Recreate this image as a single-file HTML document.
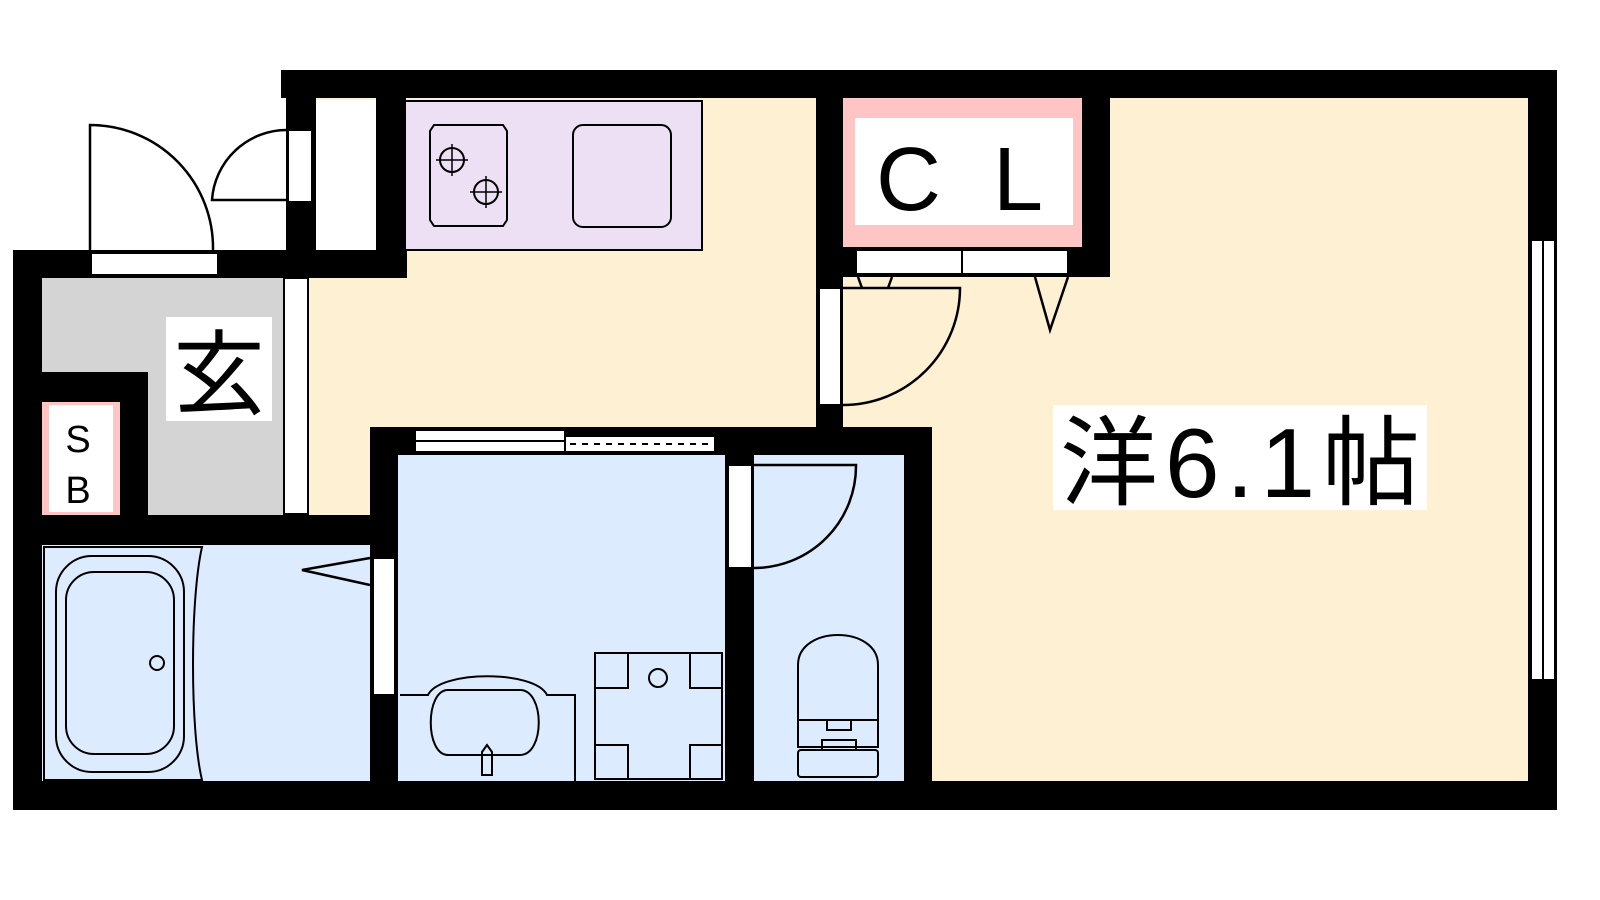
<!DOCTYPE html>
<html><head><meta charset="utf-8"><style>
html,body{margin:0;padding:0;background:#fff;width:1600px;height:900px;overflow:hidden}
svg{display:block}
text{font-family:"Liberation Sans","Noto Sans CJK JP",sans-serif}
</style></head><body>
<svg width="1600" height="900" viewBox="0 0 1600 900" xmlns="http://www.w3.org/2000/svg">
<!-- floors -->
<rect x="300" y="98" width="1230" height="685" fill="#fdf0d3"/>
<rect x="312" y="100" width="64" height="152" fill="#fff"/>
<rect x="42" y="278" width="242" height="238" fill="#d4d4d4"/>
<rect x="42" y="545" width="330" height="238" fill="#dcebfd"/>
<rect x="398" y="455" width="330" height="328" fill="#dcebfd"/>
<rect x="754" y="455" width="152" height="328" fill="#dcebfd"/>
<!-- kitchen -->
<rect x="401" y="101" width="301" height="149" fill="#ede0f5" stroke="#000" stroke-width="2"/>
<path d="M434 125 H503 L507 131 V220 L503 226 H434 L430 220 V131 Z" fill="none" stroke="#000" stroke-width="2"/>
<circle cx="452" cy="160" r="12" fill="none" stroke="#000" stroke-width="2"/>
<path d="M452 144v32M436 160h32" stroke="#000" stroke-width="1.5"/>
<circle cx="486" cy="192" r="12" fill="none" stroke="#000" stroke-width="2"/>
<path d="M486 176v32M470 192h32" stroke="#000" stroke-width="1.5"/>
<rect x="573" y="125" width="98" height="102" rx="10" fill="none" stroke="#000" stroke-width="2"/>
<!-- CL -->
<rect x="843" y="98" width="239" height="149" fill="#ffc4c4"/>
<rect x="855" y="118" width="218" height="107" fill="#fff"/>
<text x="876" y="210" font-size="90" letter-spacing="52">CL</text>
<!-- SB -->
<rect x="42" y="402" width="78" height="113" fill="#ffc4c4"/>
<rect x="49" y="405" width="64" height="107" fill="#fff"/>
<text x="78" y="452" font-size="38" text-anchor="middle">S</text>
<text x="78" y="503" font-size="38" text-anchor="middle">B</text>
<!-- walls -->
<g fill="#000">
<rect x="281" y="70" width="1276" height="28"/>
<rect x="1528" y="70" width="29" height="740"/>
<rect x="13" y="781" width="1544" height="29"/>
<rect x="13" y="250" width="29" height="560"/>
<rect x="13" y="250" width="394" height="28"/>
<rect x="286" y="70" width="30" height="208"/>
<rect x="376" y="98" width="30" height="180"/>
<rect x="42" y="372" width="106" height="30"/>
<rect x="120" y="372" width="28" height="143"/>
<rect x="13" y="515" width="385" height="30"/>
<rect x="370" y="427" width="28" height="354"/>
<rect x="370" y="427" width="562" height="28"/>
<rect x="725" y="455" width="29" height="326"/>
<rect x="904" y="427" width="28" height="354"/>
<rect x="816" y="98" width="27" height="329"/>
<rect x="816" y="247" width="294" height="30"/>
<rect x="1082" y="98" width="28" height="179"/>
</g>
<!-- openings -->
<g fill="#fff" stroke="#000" stroke-width="2">
<rect x="91" y="253" width="127" height="22"/>
<rect x="288" y="130" width="24" height="72"/>
<rect x="284" y="278" width="24" height="236"/>
<rect x="373" y="558" width="22" height="137"/>
<rect x="728" y="465" width="24" height="103"/>
<rect x="819" y="288" width="22" height="117"/>
<rect x="1531" y="240" width="24" height="440"/>
<rect x="856" y="250" width="212" height="24"/>
<rect x="415" y="430" width="150" height="22"/>
<rect x="565" y="436" width="150" height="16"/>
</g>
<line x1="962" y1="250" x2="962" y2="274" stroke="#000" stroke-width="2"/>
<line x1="415" y1="441" x2="565" y2="441" stroke="#000" stroke-width="2"/>
<line x1="570" y1="444" x2="712" y2="444" stroke="#000" stroke-width="2" stroke-dasharray="6,6"/>
<line x1="1543" y1="240" x2="1543" y2="680" stroke="#000" stroke-width="2"/>
<!-- door swings -->
<g fill="none" stroke="#000" stroke-width="2.5">
<path d="M90 250 V125 A123 123 0 0 1 213 250"/>
<path d="M287 130 A75 75 0 0 0 212 200 H287"/>
<path d="M843 288 H960 A117 117 0 0 1 843 405"/>
<path d="M754 465 H856 A102 102 0 0 1 754 568"/>
<path d="M1035 277 L1050 330 L1068 277"/>
<path d="M858 277 L862 288 M888 288 L892 277"/>
<path d="M370 558 L302 570 L370 585"/>
</g>
<!-- bath -->
<g fill="none" stroke="#000" stroke-width="2">
<path d="M44 547 H202 C190 600 190 730 202 780 H44 Z"/>
<rect x="56" y="556" width="128" height="216" rx="36"/>
<rect x="66" y="572" width="108" height="182" rx="28"/>
<circle cx="157" cy="663" r="7"/>
<path d="M400 695 H428 C440 670 535 670 547 695 H575 V781"/>
<path d="M448 690 H520 C545 690 545 755 520 755 H448 C425 755 425 690 448 690 Z"/>
<path d="M482 775 V752 L487 745 L492 752 V775 Z"/>
<rect x="595" y="653" width="127" height="126"/>
<path d="M628 653V688H595M690 653V688H722M628 779V745H595M690 779V745H722"/>
<circle cx="658" cy="678" r="9"/>
<path d="M798 720 V665 C798 625 878 625 878 665 V720 Z"/>
<rect x="798" y="720" width="80" height="27"/>
<rect x="827" y="720" width="24" height="10"/>
<rect x="822" y="740" width="34" height="10"/>
<rect x="798" y="750" width="80" height="27" rx="3"/>
</g>
<!-- labels -->
<rect x="166" y="317" width="106" height="104" fill="#fff"/>
<text x="219" y="407" font-size="92" text-anchor="middle">玄</text>
<rect x="1053" y="405" width="374" height="105" fill="#fff"/>
<text x="1060" y="497" font-size="98" textLength="360">洋6.1帖</text>
</svg>
</body></html>
